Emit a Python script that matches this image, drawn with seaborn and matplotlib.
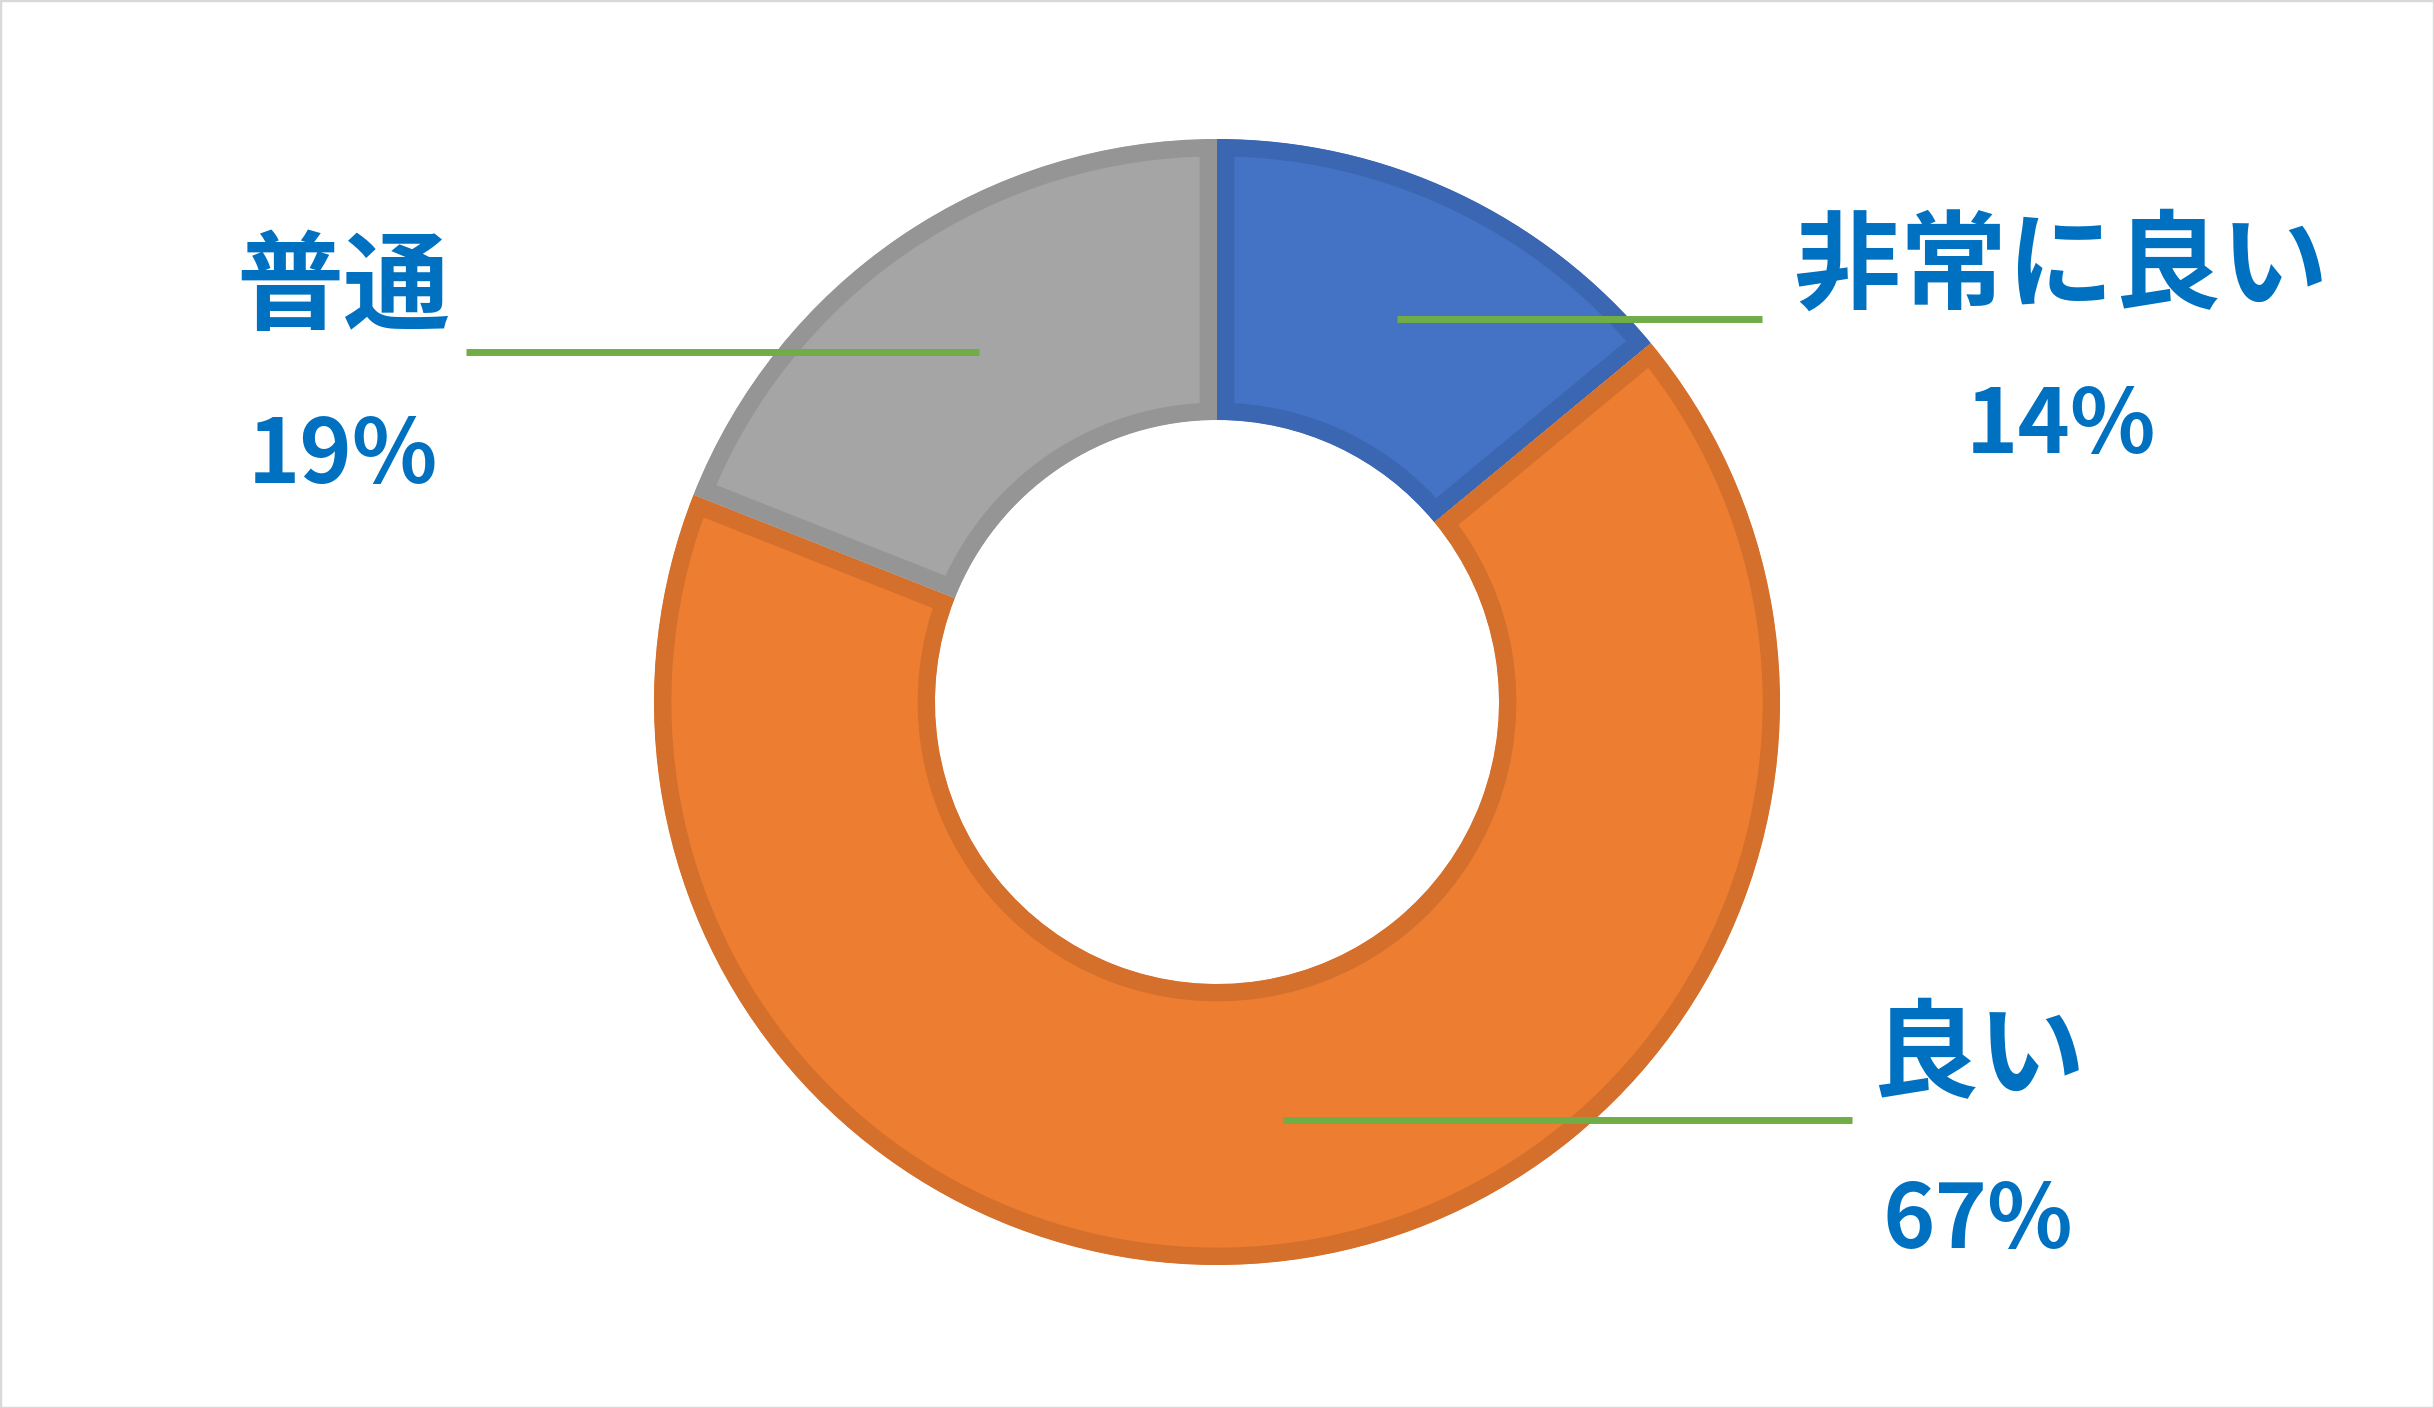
import numpy as np
import matplotlib
matplotlib.use('Agg')
import matplotlib.pyplot as plt
import seaborn as sns

# データ
categories = ['非常に良い', '良い', '普通']
shares = [14, 67, 19]

sns.set_theme(style='white')
plt.rcParams['font.family'] = ['Noto Sans CJK JP', 'DejaVu Sans']

fill_colors = ['#4472C4', '#ED7D31', '#A5A5A5']
edge_colors = ['#3A66B2', '#D4702C', '#959595']
label_color = '#0070C0'
leader_color = '#70AD47'

W, H = 2434, 1408
fig = plt.figure(figsize=(W / 100, H / 100), dpi=100)
ax = fig.add_axes([0, 0, 1, 1])

cx, cy = 1217, H - 702
r_out, r_in = 563, 282
wedges, _ = ax.pie(shares, colors=fill_colors, startangle=90, counterclock=False,
                   radius=r_out, center=(cx, cy), frame=True,
                   wedgeprops=dict(width=r_out - r_in, linewidth=25))
ax.set_xlim(0, W)
ax.set_ylim(0, H)
ax.set_aspect('equal')
ax.axis('off')
# 枠線は扇形の内側だけに描く
for w, ec in zip(wedges, edge_colors):
    w.set_edgecolor(ec)
    w.set_clip_on(True)
    w.set_clip_path(w.get_path(), ax.transData)

# ラベル位置 (名前, 割合) と引き出し線の終点 x
name_pos = [(2061, H - 268), (1978, H - 1058), (343, H - 290)]
pct_pos = [(2061, H - 427), (1978, H - 1222), (343, H - 457)]
leader_end_x = [1762, 1852, 466]

total = sum(shares)
start = 90.0
r_mid = 423
for i, (cat, val) in enumerate(zip(categories, shares)):
    span = val / total * 360
    mid = np.deg2rad(start - span / 2)
    start -= span
    x0 = cx + r_mid * np.cos(mid)
    y0 = cy + r_mid * np.sin(mid)
    ax.plot([x0, leader_end_x[i]], [y0, y0], color=leader_color, lw=5,
            solid_capstyle='butt', zorder=5)
    ax.text(*name_pos[i], cat, color=label_color, fontsize=77, fontweight='bold',
            ha='center', va='center')
    ax.text(*pct_pos[i], f'{val}%', color=label_color, fontsize=64, fontweight='bold',
            ha='center', va='center')

fig.patches.append(plt.Rectangle((0, 0), 1, 1, transform=fig.transFigure,
                                 fill=False, edgecolor='#D9D9D9', lw=2.5))
fig.savefig('out.png', dpi=100, facecolor='white')
